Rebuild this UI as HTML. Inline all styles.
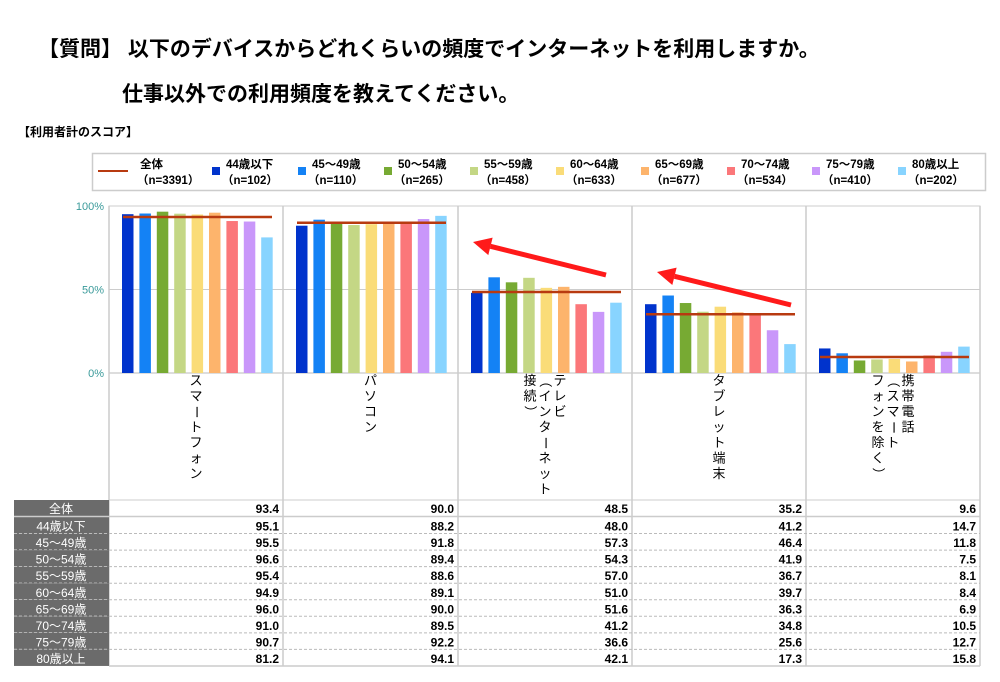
<!DOCTYPE html>
<html><head><meta charset="utf-8">
<style>
body{margin:0;background:#fff;width:1000px;height:682px;overflow:hidden;font-family:"Liberation Sans","Noto Sans CJK JP",sans-serif;}
.t{position:absolute;font-weight:bold;color:#000;white-space:nowrap}
</style></head><body>
<div class="t" style="left:38px;top:33px;font-size:21px">【質問】 以下のデバイスからどれくらいの頻度でインターネットを利用しますか。</div>
<div class="t" style="left:122px;top:78px;font-size:21px">仕事以外での利用頻度を教えてください。</div>
<div class="t" style="left:18px;top:123px;font-size:12px">【利用者計のスコア】</div>
<svg id="s" width="1000" height="682" style="position:absolute;left:0;top:0" font-family="Liberation Sans, Noto Sans CJK JP, sans-serif"></svg>
<script>
const cols=["#0033cc","#1482f5","#77aa33","#c4d785","#fadc78","#fdb46c","#fb777a","#c997fa","#88d4ff"];
const names=["44歳以下","45～49歳","50～54歳","55～59歳","60～64歳","65～69歳","70～74歳","75～79歳","80歳以上"];
const ns=["102","110","265","458","633","677","534","410","202"];
const data=[[95.1,95.5,96.6,95.4,94.9,96.0,91.0,90.7,81.2],[88.2,91.8,89.4,88.6,89.1,90.0,89.5,92.2,94.1],[48.0,57.3,54.3,57.0,51.0,51.6,41.2,36.6,42.1],[41.2,46.4,41.9,36.7,39.7,36.3,34.8,25.6,17.3],[14.7,11.8,7.5,8.1,8.4,6.9,10.5,12.7,15.8]];
const avg=[93.4,90.0,48.5,35.2,9.6];
const labels=[["スマートフォン"],["パソコン"],["テレビ","（インターネット","接続）"],["タブレット端末"],["携帯電話","（スマート","フォンを除く）"]];
const gx=[109,283,458,632,806,980];
let h='';
h+='<rect x="92.5" y="153.5" width="893" height="37" fill="#fff" stroke="#ccc" stroke-width="1.5"/>';
h+='<line x1="98" y1="171" x2="128" y2="171" stroke="#b83a10" stroke-width="2"/>';
h+='<text x="140" y="168" font-size="11.5" font-weight="bold">全体</text><text x="137" y="184" font-size="11.5" font-weight="bold">（n=3391）</text>';
const lx=[212,298,384,470,556,641,727,812,898];
for(let i=0;i<9;i++){h+=`<rect x="${lx[i]}" y="167" width="8" height="8" fill="${cols[i]}"/>`;
h+=`<text x="${lx[i]+14}" y="168" font-size="11.5" font-weight="bold">${names[i]}</text><text x="${lx[i]+10}" y="184" font-size="11.5" font-weight="bold">（n=${ns[i]}）</text>`;}
const Y=v=>373-v*1.67;
h+='<rect x="109" y="206" width="871" height="294" fill="none" stroke="#ccc"/>';
h+=`<line x1="109" y1="${Y(50)}" x2="980" y2="${Y(50)}" stroke="#ccc"/>`;
h+=`<line x1="109" y1="373" x2="980" y2="373" stroke="#bbb"/>`;
for(let g=1;g<5;g++)h+=`<line x1="${gx[g]}" y1="206" x2="${gx[g]}" y2="666" stroke="#ccc" stroke-width="1.5"/>`;
h+='<line x1="980" y1="206" x2="980" y2="666" stroke="#ccc" stroke-width="1.5"/>';
h+='<line x1="109" y1="206" x2="109" y2="666" stroke="#ccc" stroke-width="1.5"/>';
[[100,206],[50,Y(50)],[0,373]].forEach(a=>h+=`<text x="104" y="${a[1]+4}" font-size="11" fill="#3a9a9a" text-anchor="end">${a[0]}%</text>`);
for(let g=0;g<5;g++){
 for(let i=0;i<9;i++){const x=gx[g]+13+i*17.4;h+=`<rect x="${x}" y="${Y(data[g][i])}" width="11.5" height="${data[g][i]*1.67}" fill="${cols[i]}"/>`;}
 h+=`<line x1="${gx[g]+14}" y1="${Y(avg[g])}" x2="${gx[g]+163}" y2="${Y(avg[g])}" stroke="#b83a10" stroke-width="2.5"/>`;
 const L=labels[g];const cx=gx[g]+(gx[g+1]-gx[g])/2;
 L.forEach((s,k)=>{const x=cx+ (L.length==1?0:(L.length-1)*7.5-k*15);
  [...s].forEach((c,j)=>{const rot='（）ー'.includes(c);const yy=385+j*15.5;
   h+=`<text x="${x}" y="${yy}" font-size="13" text-anchor="middle" ${rot?`transform="rotate(90 ${x} ${yy-4})"`:''}>${c}</text>`;});});
}
function arrow(x1,y1,x2,y2){const a=Math.atan2(y2-y1,x2-x1),L=18,W=9;const bx=x2-L*Math.cos(a),by=y2-L*Math.sin(a);
h+=`<line x1="${x1}" y1="${y1}" x2="${bx}" y2="${by}" stroke="#ff1a1a" stroke-width="5"/>`;
h+=`<polygon points="${x2},${y2} ${bx+W*Math.sin(a)},${by-W*Math.cos(a)} ${bx-W*Math.sin(a)},${by+W*Math.cos(a)}" fill="#ff1a1a"/>`;}
arrow(606,275,473,242);arrow(791,305,657,272);
const rn=["全体"].concat(names);
const tv=avg.map((a,g)=>[a].concat(data[g]));
for(let r=0;r<10;r++){const y0=r==0?500:517+(r-1)*16.55,y1=r==0?516:517+r*16.55;
 h+=`<rect x="14" y="${y0}" width="95" height="${y1-y0}" fill="#6b6b6b"/>`;
 if(r>0&&r<9)h+=`<line x1="14" y1="${y1}" x2="109" y2="${y1}" stroke="#fff" stroke-dasharray="3,2"/>`;
 if(r>0&&r<9)h+=`<line x1="109" y1="${y1}" x2="980" y2="${y1}" stroke="#bbb" stroke-dasharray="3,2"/>`;
 h+=`<text x="61" y="${y1-3}" font-size="12" fill="#fff" text-anchor="middle">${rn[r]}</text>`;
 for(let g=0;g<5;g++)h+=`<text x="${gx[g+1]-4}" y="${y1-3}" font-size="12" font-weight="bold" text-anchor="end">${tv[g][r].toFixed(1)}</text>`;
}
h+='<line x1="14" y1="516.5" x2="980" y2="516.5" stroke="#ccc" stroke-width="1.5"/>';
h+='<line x1="109" y1="666" x2="980" y2="666" stroke="#ccc" stroke-width="1.5"/>';
document.getElementById('s').innerHTML=h;
</script>
</body></html>
